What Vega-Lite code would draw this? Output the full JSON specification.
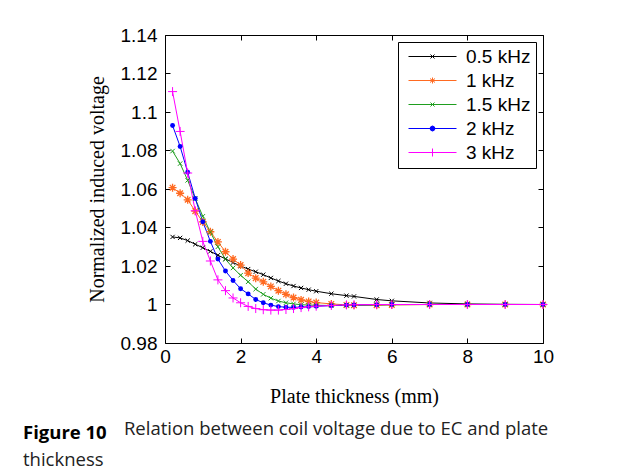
{
  "$schema": "https://vega.github.io/schema/vega-lite/v6.json",
  "width": 378,
  "height": 308,
  "autosize": {"type": "none"},
  "padding": {"left": 165, "top": 35, "right": 81, "bottom": 131},
  "background": "white",
  "config": {
    "view": {"stroke": "black", "strokeWidth": 1},
    "axis": {
      "domain": false,
      "grid": false,
      "tickColor": "black",
      "tickSize": -5,
      "labelFont": "Liberation Sans",
      "labelFontSize": 19,
      "labelColor": "black",
      "labelFlush": false,
      "labelOverlap": false,
      "titleFont": "Liberation Serif",
      "titleFontSize": 20,
      "titleFontWeight": "normal",
      "titleColor": "black"
    }
  },
  "title": {
    "text": "Figure 10",
    "subtitle": ["\u200b\u00a0\u00a0\u00a0\u00a0\u00a0\u00a0\u00a0\u00a0\u00a0\u00a0\u00a0\u00a0\u00a0\u00a0\u00a0\u00a0\u00a0\u00a0\u00a0\u00a0\u00a0Relation between coil voltage due to EC and plate", "thickness"],
    "orient": "bottom",
    "anchor": "start",
    "frame": "group",
    "dx": -142,
    "offset": 18,
    "font": "Open Sans",
    "fontSize": 18.5,
    "fontWeight": "bold",
    "color": "black",
    "subtitleFont": "Open Sans",
    "subtitleFontSize": 18.5,
    "subtitleColor": "#222222",
    "subtitleLineHeight": 31,
    "subtitlePadding": -23
  },
  "data": {"values": [
    {"f":"0.5 kHz","x":0.2,"y":1.0351},{"f":"0.5 kHz","x":0.4,"y":1.0346},{"f":"0.5 kHz","x":0.6,"y":1.0332},{"f":"0.5 kHz","x":0.8,"y":1.0313},{"f":"0.5 kHz","x":1.0,"y":1.0295},{"f":"0.5 kHz","x":1.2,"y":1.0276},{"f":"0.5 kHz","x":1.4,"y":1.0256},{"f":"0.5 kHz","x":1.6,"y":1.0237},{"f":"0.5 kHz","x":1.8,"y":1.0218},{"f":"0.5 kHz","x":2.0,"y":1.0200},{"f":"0.5 kHz","x":2.2,"y":1.0184},{"f":"0.5 kHz","x":2.4,"y":1.0170},{"f":"0.5 kHz","x":2.6,"y":1.0155},{"f":"0.5 kHz","x":2.8,"y":1.0138},{"f":"0.5 kHz","x":3.0,"y":1.0122},{"f":"0.5 kHz","x":3.2,"y":1.0108},{"f":"0.5 kHz","x":3.4,"y":1.0096},{"f":"0.5 kHz","x":3.6,"y":1.0086},{"f":"0.5 kHz","x":3.8,"y":1.0077},{"f":"0.5 kHz","x":4.0,"y":1.0069},{"f":"0.5 kHz","x":4.4,"y":1.0056},{"f":"0.5 kHz","x":4.8,"y":1.0046},{"f":"0.5 kHz","x":5.0,"y":1.0042},{"f":"0.5 kHz","x":5.6,"y":1.0026},{"f":"0.5 kHz","x":6,"y":1.0019},{"f":"0.5 kHz","x":7,"y":1.0008},{"f":"0.5 kHz","x":8,"y":1.0003},{"f":"0.5 kHz","x":9,"y":1.0001},{"f":"0.5 kHz","x":10,"y":1.0},
    {"f":"1 kHz","x":0.2,"y":1.0607},{"f":"1 kHz","x":0.4,"y":1.0578},{"f":"1 kHz","x":0.6,"y":1.0544},{"f":"1 kHz","x":0.8,"y":1.0485},{"f":"1 kHz","x":1.0,"y":1.0429},{"f":"1 kHz","x":1.2,"y":1.0378},{"f":"1 kHz","x":1.4,"y":1.0325},{"f":"1 kHz","x":1.6,"y":1.0274},{"f":"1 kHz","x":1.8,"y":1.0236},{"f":"1 kHz","x":2.0,"y":1.0205},{"f":"1 kHz","x":2.2,"y":1.0163},{"f":"1 kHz","x":2.4,"y":1.0137},{"f":"1 kHz","x":2.6,"y":1.0118},{"f":"1 kHz","x":2.8,"y":1.0094},{"f":"1 kHz","x":3.0,"y":1.0072},{"f":"1 kHz","x":3.2,"y":1.0053},{"f":"1 kHz","x":3.4,"y":1.0036},{"f":"1 kHz","x":3.6,"y":1.0024},{"f":"1 kHz","x":3.8,"y":1.0016},{"f":"1 kHz","x":4.0,"y":1.0010},{"f":"1 kHz","x":4.4,"y":1.0003},{"f":"1 kHz","x":4.8,"y":0.9998},{"f":"1 kHz","x":5.0,"y":0.9996},{"f":"1 kHz","x":5.6,"y":0.9996},{"f":"1 kHz","x":6,"y":0.9998},{"f":"1 kHz","x":7,"y":1.0},{"f":"1 kHz","x":8,"y":1.0},{"f":"1 kHz","x":9,"y":1.0},{"f":"1 kHz","x":10,"y":1.0},
    {"f":"1.5 kHz","x":0.2,"y":1.0797},{"f":"1.5 kHz","x":0.4,"y":1.0732},{"f":"1.5 kHz","x":0.6,"y":1.0645},{"f":"1.5 kHz","x":0.8,"y":1.0550},{"f":"1.5 kHz","x":1.0,"y":1.0458},{"f":"1.5 kHz","x":1.2,"y":1.0376},{"f":"1.5 kHz","x":1.4,"y":1.0300},{"f":"1.5 kHz","x":1.6,"y":1.0235},{"f":"1.5 kHz","x":1.8,"y":1.0190},{"f":"1.5 kHz","x":2.0,"y":1.0152},{"f":"1.5 kHz","x":2.2,"y":1.0118},{"f":"1.5 kHz","x":2.4,"y":1.0080},{"f":"1.5 kHz","x":2.6,"y":1.0053},{"f":"1.5 kHz","x":2.8,"y":1.0033},{"f":"1.5 kHz","x":3.0,"y":1.0018},{"f":"1.5 kHz","x":3.2,"y":1.0009},{"f":"1.5 kHz","x":3.4,"y":1.0003},{"f":"1.5 kHz","x":3.6,"y":0.9999},{"f":"1.5 kHz","x":3.8,"y":0.9997},{"f":"1.5 kHz","x":4.0,"y":0.9996},{"f":"1.5 kHz","x":4.4,"y":0.9995},{"f":"1.5 kHz","x":4.8,"y":0.9996},{"f":"1.5 kHz","x":5.0,"y":0.9997},{"f":"1.5 kHz","x":5.6,"y":0.9998},{"f":"1.5 kHz","x":6,"y":0.9999},{"f":"1.5 kHz","x":7,"y":1.0},{"f":"1.5 kHz","x":8,"y":1.0},{"f":"1.5 kHz","x":9,"y":1.0},{"f":"1.5 kHz","x":10,"y":1.0},
    {"f":"2 kHz","x":0.2,"y":1.0930},{"f":"2 kHz","x":0.4,"y":1.0821},{"f":"2 kHz","x":0.6,"y":1.0687},{"f":"2 kHz","x":0.8,"y":1.0551},{"f":"2 kHz","x":1.0,"y":1.0430},{"f":"2 kHz","x":1.2,"y":1.0328},{"f":"2 kHz","x":1.4,"y":1.0236},{"f":"2 kHz","x":1.6,"y":1.0174},{"f":"2 kHz","x":1.8,"y":1.0125},{"f":"2 kHz","x":2.0,"y":1.0082},{"f":"2 kHz","x":2.2,"y":1.0055},{"f":"2 kHz","x":2.4,"y":1.0026},{"f":"2 kHz","x":2.6,"y":1.0009},{"f":"2 kHz","x":2.8,"y":0.9997},{"f":"2 kHz","x":3.0,"y":0.9989},{"f":"2 kHz","x":3.2,"y":0.9986},{"f":"2 kHz","x":3.4,"y":0.9985},{"f":"2 kHz","x":3.6,"y":0.9987},{"f":"2 kHz","x":3.8,"y":0.9989},{"f":"2 kHz","x":4.0,"y":0.9991},{"f":"2 kHz","x":4.4,"y":0.9994},{"f":"2 kHz","x":4.8,"y":0.9997},{"f":"2 kHz","x":5.0,"y":0.9998},{"f":"2 kHz","x":5.6,"y":0.9999},{"f":"2 kHz","x":6,"y":1.0},{"f":"2 kHz","x":7,"y":1.0},{"f":"2 kHz","x":8,"y":1.0},{"f":"2 kHz","x":9,"y":1.0},{"f":"2 kHz","x":10,"y":1.0},
    {"f":"3 kHz","x":0.2,"y":1.1106},{"f":"3 kHz","x":0.4,"y":1.0899},{"f":"3 kHz","x":0.6,"y":1.0683},{"f":"3 kHz","x":0.8,"y":1.0487},{"f":"3 kHz","x":1.0,"y":1.0328},{"f":"3 kHz","x":1.2,"y":1.0226},{"f":"3 kHz","x":1.4,"y":1.0128},{"f":"3 kHz","x":1.6,"y":1.0072},{"f":"3 kHz","x":1.8,"y":1.0034},{"f":"3 kHz","x":2.0,"y":1.0009},{"f":"3 kHz","x":2.2,"y":0.9990},{"f":"3 kHz","x":2.4,"y":0.9979},{"f":"3 kHz","x":2.6,"y":0.9973},{"f":"3 kHz","x":2.8,"y":0.9971},{"f":"3 kHz","x":3.0,"y":0.9971},{"f":"3 kHz","x":3.2,"y":0.9974},{"f":"3 kHz","x":3.4,"y":0.9979},{"f":"3 kHz","x":3.6,"y":0.9984},{"f":"3 kHz","x":3.8,"y":0.9988},{"f":"3 kHz","x":4.0,"y":0.9991},{"f":"3 kHz","x":4.4,"y":0.9995},{"f":"3 kHz","x":4.8,"y":0.9998},{"f":"3 kHz","x":5.0,"y":0.9999},{"f":"3 kHz","x":5.6,"y":1.0},{"f":"3 kHz","x":6,"y":1.0},{"f":"3 kHz","x":7,"y":1.0},{"f":"3 kHz","x":8,"y":1.0},{"f":"3 kHz","x":9,"y":1.0},{"f":"3 kHz","x":10,"y":1.0}
  ]},
  "encoding": {
    "x": {"field": "x", "type": "quantitative", "scale": {"domain": [0, 10], "nice": false, "zero": false}},
    "y": {"field": "y", "type": "quantitative", "scale": {"domain": [0.98, 1.14], "nice": false, "zero": false}}
  },
  "layer": [
    {
      "mark": {"type": "line", "strokeWidth": 1},
      "encoding": {
        "x": {"field": "x", "type": "quantitative", "axis": {"orient": "bottom", "values": [0, 2, 4, 6, 8, 10], "title": "Plate thickness (mm)", "labelPadding": 9, "titlePadding": 20}},
        "y": {"field": "y", "type": "quantitative", "axis": {"orient": "left", "values": [0.98, 1, 1.02, 1.04, 1.06, 1.08, 1.1, 1.12, 1.14], "format": ".3~g", "title": "Normalized induced voltage", "labelPadding": 13, "titlePadding": 13}},
        "color": {
          "field": "f", "type": "nominal",
          "scale": {"domain": ["0.5 kHz", "1 kHz", "1.5 kHz", "2 kHz", "3 kHz"], "range": ["#000000", "#ff6a21", "#1f9e1f", "#0000ff", "#ff00ff"]},
          "legend": {
            "title": null,
            "orient": "top-right",
            "offset": 7,
            "padding": 5,
            "strokeColor": "black",
            "fillColor": "white",
            "labelFont": "Liberation Sans",
            "labelFontSize": 19,
            "labelColor": "black",
            "symbolSize": 100,
            "symbolOffset": 20,
            "labelOffset": 24,
            "rowPadding": 4,
            "encode": {
              "symbols": {
                "update": {
                  "shape": {"signal": "datum.value === '0.5 kHz' ? 'M-4.8,0L4.8,0M-0.4,-0.4L0.4,0.4M-0.4,0.4L0.4,-0.4' : datum.value === '1 kHz' ? 'M-4.8,0L4.8,0M0,-0.6L0,0.6M-0.5,-0.4L0.5,0.4M-0.5,0.4L0.5,-0.4' : datum.value === '1.5 kHz' ? 'M-4.8,0L4.8,0M-0.4,-0.4L0.4,0.4M-0.4,0.4L0.4,-0.4' : datum.value === '2 kHz' ? 'M-4.8,0L4.8,0M-0.5,0L-0.35,-0.35L0,-0.5L0.35,-0.35L0.5,0L0.35,0.35L0,0.5L-0.35,0.35Z' : 'M-4.8,0L4.8,0M0,-0.8L0,0.8'"},
                  "size": {"value": 100},
                  "fill": {"signal": "datum.value === '2 kHz' ? '#0000ff' : 'transparent'"},
                  "strokeWidth": {"value": 1}
                }
              }
            }
          }
        }
      }
    },
    {
      "transform": [{"filter": "datum.f === '0.5 kHz'"}],
      "mark": {"type": "point", "shape": "M-1,-1L1,1M-1,1L1,-1", "size": 18, "filled": false, "color": "#000000", "strokeWidth": 1, "opacity": 1},
      "encoding": {
        "x": {"field": "x", "type": "quantitative", "axis": {"orient": "top", "values": [0, 2, 4, 6, 8, 10], "labels": false, "title": null}},
        "y": {"field": "y", "type": "quantitative", "axis": {"orient": "right", "values": [0.98, 1, 1.02, 1.04, 1.06, 1.08, 1.1, 1.12, 1.14], "labels": false, "title": null}}
      }
    },
    {
      "transform": [{"filter": "datum.f === '1 kHz'"}],
      "mark": {"type": "point", "shape": "M-1,0L1,0M0,-1L0,1M-0.7,-0.7L0.7,0.7M-0.7,0.7L0.7,-0.7", "size": 64, "filled": false, "color": "#ff6a21", "strokeWidth": 1.3, "opacity": 1},
      "encoding": {
        "x": {"field": "x", "type": "quantitative", "axis": null},
        "y": {"field": "y", "type": "quantitative", "axis": null}
      }
    },
    {
      "transform": [{"filter": "datum.f === '1.5 kHz'"}],
      "mark": {"type": "point", "shape": "M-1,-1L1,1M-1,1L1,-1", "size": 20, "filled": false, "color": "#1f9e1f", "strokeWidth": 1, "opacity": 1},
      "encoding": {
        "x": {"field": "x", "type": "quantitative", "axis": null},
        "y": {"field": "y", "type": "quantitative", "axis": null}
      }
    },
    {
      "transform": [{"filter": "datum.f === '2 kHz'"}],
      "mark": {"type": "point", "shape": "circle", "size": 24, "filled": true, "color": "#0000ff", "opacity": 1},
      "encoding": {
        "x": {"field": "x", "type": "quantitative", "axis": null},
        "y": {"field": "y", "type": "quantitative", "axis": null}
      }
    },
    {
      "transform": [{"filter": "datum.f === '3 kHz'"}],
      "mark": {"type": "point", "shape": "M-1,0L1,0M0,-1L0,1", "size": 81, "filled": false, "color": "#ff00ff", "strokeWidth": 1, "opacity": 1},
      "encoding": {
        "x": {"field": "x", "type": "quantitative", "axis": null},
        "y": {"field": "y", "type": "quantitative", "axis": null}
      }
    }
  ],
  "resolve": {"axis": {"x": "independent", "y": "independent"}}
}
